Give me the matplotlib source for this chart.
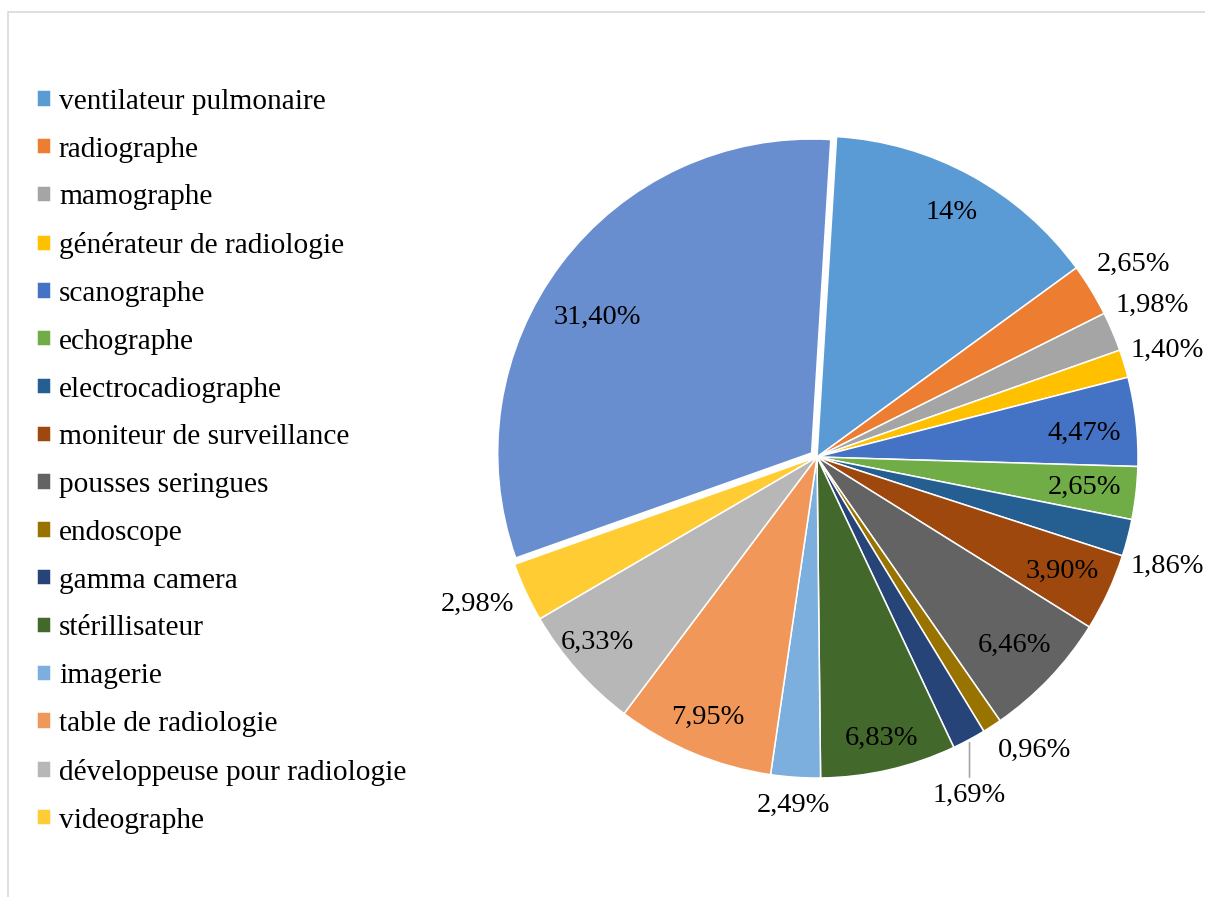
import numpy as np
import matplotlib.pyplot as plt
from matplotlib.patches import Rectangle

plt.rcParams['font.family'] = ['Liberation Serif', 'DejaVu Serif']

# data
categories = ['ventilateur pulmonaire', 'radiographe', 'mamographe',
              'générateur de radiologie', 'scanographe', 'echographe',
              'electrocadiographe', 'moniteur de surveillance',
              'pousses seringues', 'endoscope', 'gamma camera',
              'stérillisateur', 'imagerie', 'table de radiologie',
              'développeuse pour radiologie', 'videographe']
values = [14, 2.65, 1.98, 1.40, 4.47, 2.65, 1.86, 3.90, 6.46, 0.96,
          1.69, 6.83, 2.49, 7.95, 6.33, 2.98, 31.40]
colors = ['#5B9BD5', '#ED7D31', '#A5A5A5', '#FFC000', '#4472C4', '#70AD47',
          '#255E91', '#9E480E', '#636363', '#997300', '#264478', '#43682B',
          '#7CAFDD', '#F1975A', '#B7B7B7', '#FFCD33', '#698ED0']

# label placement (radius as fraction of pie radius, angle nudge in degrees)
label_r = [0.87, 1.156, 1.146, 1.14, 0.835, 0.838, 1.143, 0.844, 0.85,
           1.137, 1.156, 0.90, 1.087, 0.88, 0.894, 1.153, 0.81]
label_da = [0, 0, 1.4, 0, -1.2, 0, -2.8, 0, 0, 3.5, -4, 0, 0, 0, -1.5,
            -1.5, 4.5]

def fmt(v):
    if float(v).is_integer():
        return f"{int(v)}%"
    return f"{v:.2f}%".replace('.', ',')

W, H = 1205, 897
fig = plt.figure(figsize=(W / 100, H / 100), dpi=100)

# pie axes: center (817, 457) px, radius 321 px
cx, cy, R = 817, 457, 321
lim = 1.25
side = 2 * lim * R
ax = fig.add_axes([(cx - side / 2) / W, (H - cy - side / 2) / H, side / W, side / H])
ax.set_xlim(-lim, lim)
ax.set_ylim(-lim, lim)
ax.set_aspect('equal')
ax.axis('off')

start = 86.5
explode = [0] * (len(values) - 1) + [0.021]
wedges, _ = ax.pie(values, colors=colors, startangle=start, counterclock=False,
                   explode=explode, radius=1.0,
                   wedgeprops=dict(edgecolor='white', linewidth=1.1))
for w in wedges:
    w.set_clip_on(False)
# the pulled-out slice is drawn a little smaller
wedges[-1].set_radius(0.978)

total = sum(values)
cum = np.cumsum([0] + values[:-1])
for i, v in enumerate(values):
    mid = start - (cum[i] + v / 2) / total * 360 + label_da[i]
    a = np.deg2rad(mid)
    x, y = label_r[i] * np.cos(a), label_r[i] * np.sin(a)
    if i == 10:
        # leader line up to the gamma camera slice
        ax.annotate(fmt(v), xy=(x, -np.sqrt(1 - x ** 2) - 0.01), xytext=(x, y),
                    ha='center', va='center', fontsize=20.5,
                    annotation_clip=False,
                    arrowprops=dict(arrowstyle='-', color='#A6A6A6', lw=1.2,
                                    shrinkA=2, shrinkB=0))
    else:
        ax.text(x, y, fmt(v), ha='center', va='center', fontsize=20.5,
                clip_on=False)

leg = fig.legend(wedges[:len(categories)], categories, loc='upper left',
                 bbox_to_anchor=(0.031, 0.901), frameon=False, fontsize=21.2,
                 handlelength=0.48, handleheight=0.48, handletextpad=0.25,
                 labelspacing=0.74, borderpad=0, borderaxespad=0)

# outer chart frame
fig.patches.append(Rectangle((8 / W, -0.1), 1.2, 1 - 12 / H + 0.1,
                             transform=fig.transFigure, fill=False,
                             edgecolor='#D9D9D9', lw=1.2))

fig.savefig('out.png', dpi=100)
